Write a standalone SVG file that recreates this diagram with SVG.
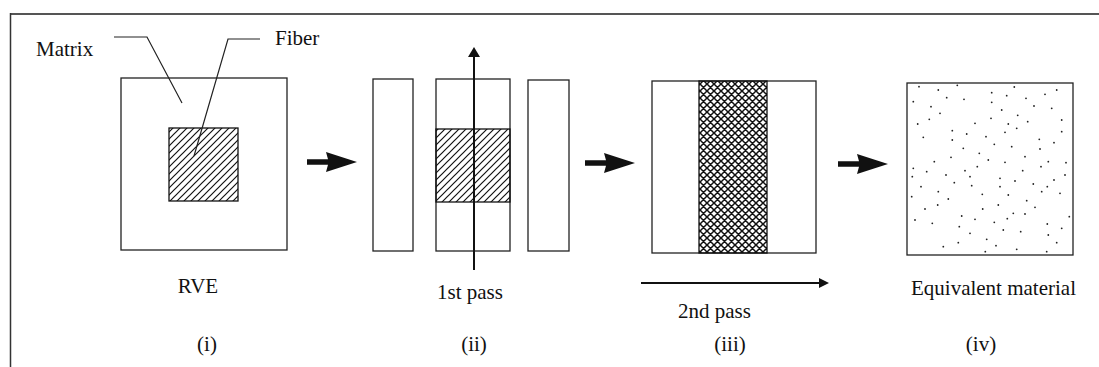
<svg xmlns="http://www.w3.org/2000/svg" width="1099" height="367" viewBox="0 0 1099 367">
  <style>
    .box { fill: #fff; stroke: #222; stroke-width: 1.3; }
    .lbl { font-family: "Liberation Serif", "Times New Roman", serif; font-size: 21px; fill: #111; }
    .mid { text-anchor: middle; }
    .lead { fill: none; stroke: #222; stroke-width: 1.2; }
    .dot { fill: #222; }
    .thin { stroke: #111; stroke-width: 2; fill: none; }
  </style>
  <defs>
    <pattern id="hatch" patternUnits="userSpaceOnUse" width="7" height="7">
      <path d="M-1,8 L8,-1 M-1,1 L1,-1 M6,8 L8,6" stroke="#111" stroke-width="1.2"/>
    </pattern>
    <pattern id="cross" patternUnits="userSpaceOnUse" width="7" height="7">
      <path d="M-1,8 L8,-1 M-1,1 L1,-1 M6,8 L8,6 M-1,-1 L8,8 M-1,6 L1,8 M6,-1 L8,1" stroke="#111" stroke-width="1.5"/>
    </pattern>
    <path id="bigArrow" d="M0,-2.8 H21 L19,-10 L50,0 L19,10 L21,2.8 H0 Z" fill="#111"/>
  </defs>

  <g id="frame">
    <line x1="10" y1="14" x2="1099" y2="14" stroke="#555" stroke-width="2"/>
    <line x1="10.5" y1="13" x2="10.5" y2="367" stroke="#333" stroke-width="1.5"/>
  </g>

  <g id="rve">
    <rect class="box" x="121" y="78" width="166" height="172"/>
    <rect x="169" y="128" width="69" height="73" fill="url(#hatch)" stroke="#111" stroke-width="1.3"/>
    <text class="lbl" x="36" y="56">Matrix</text>
    <text class="lbl" x="275" y="45">Fiber</text>
    <text class="lbl mid" x="198" y="293">RVE</text>
    <text class="lbl mid" x="207" y="351">(i)</text>
  </g>

  <g id="strips">
    <rect class="box" x="373" y="79" width="40" height="172"/>
    <rect class="box" x="436" y="79" width="74" height="172"/>
    <rect x="436" y="129" width="74" height="73" fill="url(#hatch)" stroke="#111" stroke-width="1.3"/>
    <rect class="box" x="528" y="80" width="41" height="171"/>
    <text class="lbl mid" x="470" y="299">1st pass</text>
    <text class="lbl mid" x="474" y="351">(ii)</text>
  </g>

  <g id="layered">
    <rect class="box" x="652" y="81" width="164" height="172"/>
    <rect x="699" y="81" width="68" height="172" fill="url(#cross)" stroke="#111" stroke-width="1.3"/>
    <text class="lbl mid" x="714.5" y="318">2nd pass</text>
    <text class="lbl mid" x="730" y="351">(iii)</text>
  </g>

  <g id="equivalent">
    <rect class="box" x="907" y="83" width="166" height="172"/>
    <g class="dot">
      <circle cx="919" cy="86.7" r="0.9"/><circle cx="938.3" cy="90" r="0.9"/><circle cx="957.3" cy="85.3" r="0.9"/>
      <circle cx="991.7" cy="92.7" r="0.9"/><circle cx="1006.7" cy="95.7" r="0.9"/><circle cx="1026" cy="98.3" r="0.9"/>
      <circle cx="1045" cy="94.3" r="0.9"/><circle cx="1056.7" cy="90" r="0.9"/><circle cx="1014.3" cy="87" r="0.9"/>
      <circle cx="913.3" cy="101.7" r="0.9"/><circle cx="931" cy="106.7" r="0.9"/><circle cx="946.7" cy="97.7" r="0.9"/>
      <circle cx="964" cy="99.3" r="0.9"/><circle cx="991.7" cy="102.3" r="0.9"/><circle cx="1001.7" cy="110" r="0.9"/>
      <circle cx="1034" cy="106" r="0.9"/><circle cx="1051.7" cy="108.3" r="0.9"/><circle cx="917.7" cy="124" r="0.9"/>
      <circle cx="929.3" cy="119.3" r="0.9"/><circle cx="940" cy="113.3" r="0.9"/><circle cx="975" cy="123.3" r="0.9"/>
      <circle cx="991" cy="118.3" r="0.9"/><circle cx="1017.7" cy="115.3" r="0.9"/><circle cx="1027.7" cy="121.7" r="0.9"/>
      <circle cx="1061.7" cy="120" r="0.9"/><circle cx="1008.3" cy="124" r="0.9"/><circle cx="923.3" cy="137.3" r="0.9"/>
      <circle cx="952.3" cy="130.7" r="0.9"/><circle cx="966.7" cy="134" r="0.9"/><circle cx="986" cy="136.7" r="0.9"/>
      <circle cx="1005" cy="132.3" r="0.9"/><circle cx="1016.7" cy="128.3" r="0.9"/><circle cx="1039.3" cy="139.3" r="0.9"/>
      <circle cx="1054" cy="142.7" r="0.9"/><circle cx="1061.7" cy="131.7" r="0.9"/><circle cx="952.3" cy="140" r="0.9"/>
      <circle cx="963.3" cy="148.3" r="0.9"/><circle cx="994.3" cy="144.3" r="0.9"/><circle cx="1011.7" cy="146.7" r="0.9"/>
      <circle cx="1040" cy="149" r="0.9"/><circle cx="979.3" cy="153.3" r="0.9"/><circle cx="951" cy="157.3" r="0.9"/>
      <circle cx="934.3" cy="161.7" r="0.9"/><circle cx="988.3" cy="160" r="0.9"/><circle cx="1005" cy="162.3" r="0.9"/>
      <circle cx="1025" cy="156.7" r="0.9"/><circle cx="1048.3" cy="161.7" r="0.9"/><circle cx="1066" cy="162.7" r="0.9"/>
      <circle cx="913.3" cy="168.3" r="0.9"/><circle cx="926.7" cy="171.7" r="0.9"/><circle cx="965" cy="170.7" r="0.9"/>
      <circle cx="977.3" cy="166.7" r="0.9"/><circle cx="1022.7" cy="170.7" r="0.9"/><circle cx="1041" cy="166.7" r="0.9"/>
      <circle cx="1065" cy="175" r="0.9"/><circle cx="912.3" cy="176.7" r="0.9"/><circle cx="946" cy="175" r="0.9"/>
      <circle cx="970" cy="176.7" r="0.9"/><circle cx="1000" cy="178.3" r="0.9"/><circle cx="1015" cy="181" r="0.9"/>
      <circle cx="1054" cy="180" r="0.9"/><circle cx="921" cy="186.7" r="0.9"/><circle cx="954.3" cy="182.7" r="0.9"/>
      <circle cx="971.7" cy="185.7" r="0.9"/><circle cx="1000" cy="186.7" r="0.9"/><circle cx="1033.3" cy="184" r="0.9"/>
      <circle cx="1041.7" cy="191.7" r="0.9"/><circle cx="1060" cy="193.3" r="0.9"/><circle cx="911.7" cy="196.7" r="0.9"/>
      <circle cx="938.3" cy="191.7" r="0.9"/><circle cx="948.3" cy="199" r="0.9"/><circle cx="982.3" cy="194.3" r="0.9"/>
      <circle cx="1008.3" cy="195" r="0.9"/><circle cx="1026.7" cy="200.7" r="0.9"/><circle cx="1047.3" cy="186.7" r="0.9"/>
      <circle cx="925" cy="209" r="0.9"/><circle cx="937.7" cy="205" r="0.9"/><circle cx="982.7" cy="209" r="0.9"/>
      <circle cx="998.3" cy="205" r="0.9"/><circle cx="1013.3" cy="213.3" r="0.9"/><circle cx="1035" cy="207.3" r="0.9"/>
      <circle cx="1025" cy="214" r="0.9"/><circle cx="915" cy="220" r="0.9"/><circle cx="932.3" cy="223.3" r="0.9"/>
      <circle cx="961.7" cy="216" r="0.9"/><circle cx="975" cy="219.3" r="0.9"/><circle cx="994.3" cy="222.3" r="0.9"/>
      <circle cx="1007.3" cy="218.7" r="0.9"/><circle cx="1047.3" cy="224" r="0.9"/><circle cx="1061.7" cy="228.3" r="0.9"/>
      <circle cx="1069.3" cy="216.7" r="0.9"/><circle cx="959.3" cy="226.7" r="0.9"/><circle cx="970" cy="233.3" r="0.9"/>
      <circle cx="986.7" cy="239.3" r="0.9"/><circle cx="1003.3" cy="230" r="0.9"/><circle cx="1020.7" cy="231.7" r="0.9"/>
      <circle cx="1048.3" cy="235" r="0.9"/><circle cx="1056.7" cy="242.7" r="0.9"/><circle cx="943.3" cy="246.7" r="0.9"/>
      <circle cx="958.3" cy="242.7" r="0.9"/><circle cx="996" cy="245.7" r="0.9"/><circle cx="985.3" cy="251.7" r="0.9"/>
      <circle cx="1046.7" cy="251.7" r="0.9"/><circle cx="1016.7" cy="249.3" r="0.9"/>
    </g>
    <text class="lbl mid" x="993.5" y="295">Equivalent material</text>
    <text class="lbl mid" x="981" y="351">(iv)</text>
  </g>

  <g id="connectors">
    <path class="lead" d="M114,37 H147 L182,103"/>
    <path class="lead" d="M260,39 H228 L194,156"/>
    <use href="#bigArrow" transform="translate(307,162)"/>
    <use href="#bigArrow" transform="translate(585,163)"/>
    <use href="#bigArrow" transform="translate(838,164)"/>
    <line class="thin" x1="474" y1="270" x2="474" y2="56"/>
    <polygon points="468,57 474,47 480,57" fill="#111"/>
    <line class="thin" x1="641" y1="283" x2="820" y2="283"/>
    <polygon points="819,278 829,283 819,288" fill="#111"/>
  </g>
</svg>
